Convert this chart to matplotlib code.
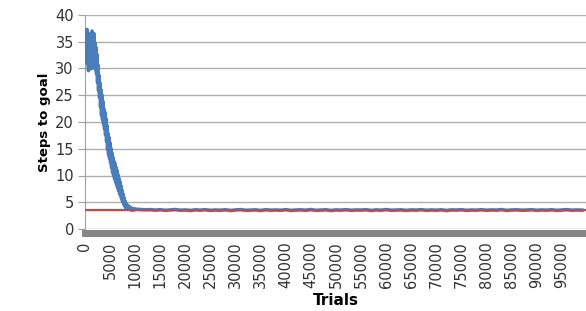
import matplotlib
matplotlib.use('Agg')
import matplotlib.pyplot as plt

# learning phase, one reading every 100 trials (0 .. 10000)
early_trials = list(range(0, 10001, 100))
early_steps = [
    35.2, 31.1, 37.0, 32.4, 37.3, 30.9, 36.1, 29.6, 35.0, 30.2,
    36.4, 31.3, 36.6, 30.0, 37.0, 31.8, 35.6, 30.4, 36.5, 31.2,
    34.8, 29.8, 33.9, 29.0, 32.6, 27.4, 30.6, 25.9, 28.7, 24.6,
    27.3, 22.8, 26.0, 21.2, 25.0, 20.4, 23.8, 19.6, 22.4, 18.7,
    21.8, 17.6, 20.6, 16.4, 19.3, 14.9, 17.8, 13.9, 17.1, 13.2,
    16.1, 12.4, 15.0, 11.5, 14.2, 10.6, 13.3, 10.0, 12.6, 9.4,
    12.2, 8.8, 11.5, 8.3, 10.9, 7.7, 10.1, 7.2, 9.4, 6.6,
    8.8, 6.2, 8.0, 5.6, 7.2, 5.1, 6.5, 4.7, 5.8, 4.3,
    5.2, 4.0, 4.8, 3.9, 4.5, 3.8, 4.3, 3.7, 4.2, 3.7,
    4.0, 3.6, 3.9, 3.6, 3.8, 3.6, 3.8, 3.6, 3.7, 3.6,
    3.7,
]

# converged phase, one reading every 1000 trials (11000 .. 99000)
late_trials = list(range(11000, 99001, 1000))
late_steps = [
    3.65, 3.58, 3.62, 3.52, 3.60, 3.48, 3.56, 3.64, 3.50, 3.55,
    3.45, 3.58, 3.52, 3.61, 3.47, 3.54, 3.50, 3.59, 3.44, 3.56,
    3.63, 3.48, 3.53, 3.57, 3.45, 3.60, 3.51, 3.55, 3.49, 3.62,
    3.46, 3.54, 3.58, 3.50, 3.64, 3.47, 3.52, 3.59, 3.44, 3.56,
    3.51, 3.61, 3.48, 3.55, 3.53, 3.60, 3.45, 3.57, 3.50, 3.63,
    3.49, 3.54, 3.58, 3.46, 3.56, 3.52, 3.62, 3.48, 3.55, 3.50,
    3.59, 3.44, 3.57, 3.53, 3.61, 3.47, 3.54, 3.51, 3.60, 3.49,
    3.56, 3.52, 3.64, 3.46, 3.55, 3.58, 3.50, 3.53, 3.61, 3.48,
    3.56, 3.51, 3.59, 3.47, 3.54, 3.62, 3.50, 3.55, 3.52,
]

optimal_steps = 3.5

x_ticks = list(range(0, 95001, 5000))
y_ticks = list(range(0, 41, 5))

trials = early_trials + late_trials
steps = early_steps + late_steps

fig = plt.figure(figsize=(5.86, 3.11), dpi=100)
ax = fig.add_axes([85 / 586, 1 - 229 / 311, 501 / 586, 214 / 311])

ax.plot(trials, steps, color='#4a7ebb', linewidth=2.6, zorder=3)
ax.axhline(optimal_steps, color='#be4b48', linewidth=1.6, zorder=4)

ax.set_xlim(0, 99800)
ax.set_ylim(0, 40)
ax.set_yticks(y_ticks)
ax.set_xticks(x_ticks)
ax.set_xticklabels([str(t) for t in x_ticks])
ax.tick_params(axis='x', length=0, pad=6, labelrotation=90, labelsize=10.5,
               labelcolor='#333333')
ax.tick_params(axis='y', length=5, color='#a0a0a0', labelsize=10.5, pad=3,
               labelcolor='#333333')

ax.grid(True, axis='y', color='#b0b0b0', linewidth=1.0)
ax.set_axisbelow(True)

for s in ['top', 'right']:
    ax.spines[s].set_visible(False)
ax.spines['left'].set_color('#a0a0a0')
ax.spines['bottom'].set_color('#868686')
ax.spines['bottom'].set_linewidth(5)
ax.spines['bottom'].set_position(('outward', 3))

ax.set_ylabel('Steps to goal', fontsize=9.5, fontweight='bold', labelpad=3)
ax.set_xlabel('Trials', fontsize=11, fontweight='bold', labelpad=3)

fig.savefig('out.png', dpi=100)
